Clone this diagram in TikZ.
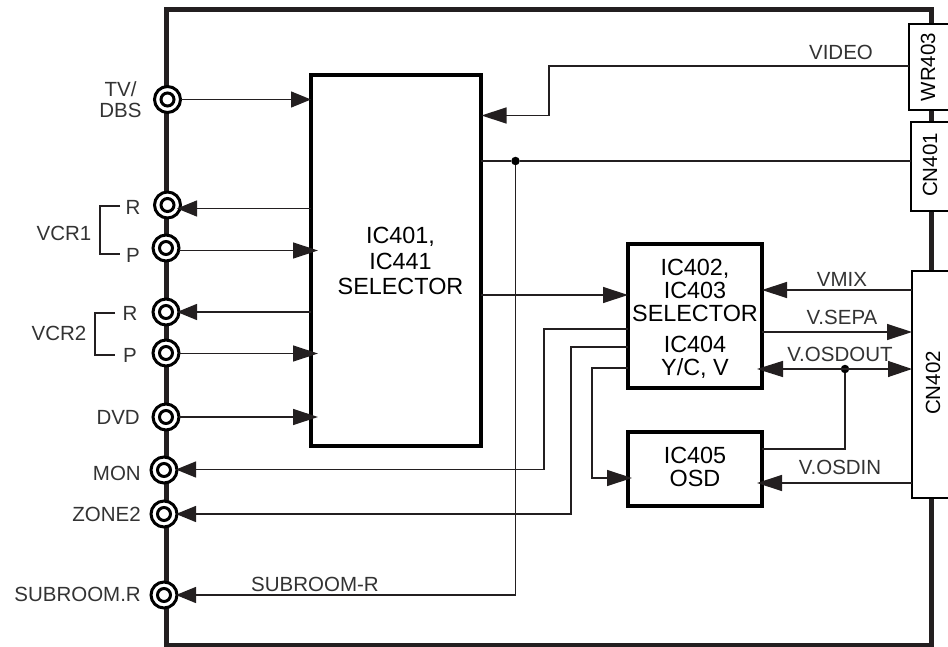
\documentclass[tikz,border=0pt]{standalone}
\usepackage{fontspec}
\setmainfont{Liberation Sans}
\usetikzlibrary{arrows.meta,calc}
\definecolor{ink}{HTML}{231F20}
\definecolor{txt}{HTML}{333333}
\tikzset{
  x=1pt,y=-1pt,
  frameline/.style={draw=ink,line width=5pt,inner sep=0pt,outer sep=0pt,minimum width=765pt,minimum height=635pt},
  icbox/.style={draw=black,fill=white,line width=4pt,inner sep=0pt,outer sep=0pt,align=center,text=black},
  conbox/.style={draw=black,fill=white,line width=2.4pt,inner sep=0pt,outer sep=0pt},
  jack/.style={circle,draw=black,fill=white,line width=3pt,minimum size=26pt,inner sep=0pt,outer sep=0pt,
    path picture={\draw[line width=3pt] (path picture bounding box.center) circle (6.5pt);}},
  lbl/.style={text=txt,inner sep=0pt,font=\fontsize{20.5}{22}\selectfont,align=center},
  rlbl/.style={lbl,anchor=east},
  vlbl/.style={rotate=90,text=black,inner sep=0pt,font=\fontsize{20.5}{22}\selectfont},
  wire/.style={draw=ink,line width=1.3pt},
  arr/.style={wire,-{Triangle[length=25pt,width=16pt,fill=ink]}},
  arrs/.style={wire,-{Triangle[length=20pt,width=16pt,fill=ink]}},
  barr/.style={wire,{Triangle[length=26pt,width=16pt,fill=ink]}-{Triangle[length=24pt,width=16pt,fill=ink]}},
  brk/.style={draw=ink,line width=1.8pt},
  dot/.style={circle,fill=black,minimum size=8.5pt,inner sep=0pt,outer sep=0pt},
}
\begin{document}
\begin{tikzpicture}
\useasboundingbox[fill=white] (0,0) rectangle (948,647);
\clip (0,0) rectangle (948,647);
\node[frameline] (frame) at (548.5,327.5) {};
% boxes
\node[icbox,minimum width=170pt,minimum height=371pt] (ic401) at (396,260.5) {};
\node[icbox,minimum width=134pt,minimum height=144pt] (ic402) at (695,316) {};
\node[icbox,minimum width=134pt,minimum height=74pt] (ic405) at (695,469) {};
\node[conbox,minimum width=60pt,minimum height=86pt] (wr403) at (939,67) {};
\node[conbox,minimum width=58pt,minimum height=89pt] (cn401) at (940,166.5) {};
\node[conbox,minimum width=56pt,minimum height=227pt] (cn402) at (940,384.5) {};
% box texts
\node[inner sep=0pt,align=center,font=\fontsize{23.4}{25.5}\selectfont] (t401) at (400.5,261) {IC401,\\IC441\\SELECTOR};
\node[inner sep=0pt,align=center,font=\fontsize{23.4}{23}\selectfont] (t402) at (695,290) {IC402,\\IC403\\SELECTOR};
\node[inner sep=0pt,align=center,font=\fontsize{23.4}{23}\selectfont] (t404) at (695,357.5) {IC404\\Y/C, V};
\node[inner sep=0pt,align=center,font=\fontsize{23.4}{22.5}\selectfont] (t405) at (695,467) {IC405\\OSD};
\node[vlbl] (twr) at (928,67) {WR403};
\node[vlbl] (tcn1) at (930,165) {CN401};
\node[vlbl] (tcn2) at (933,383) {CN402};
% jacks
\node[jack] (jtv) at (167.5,99.5) {};
\node[jack] (jr1) at (167.5,205) {};
\node[jack] (jp1) at (166,248) {};
\node[jack] (jr2) at (166,312) {};
\node[jack] (jp2) at (166,353) {};
\node[jack] (jdvd) at (166,417) {};
\node[jack] (jmon) at (164,470) {};
\node[jack] (jzone) at (164,514) {};
\node[jack] (jsub) at (164,595) {};
% anchor points of wires
\coordinate (r1) at (177,208.5);
\coordinate (p1) at (jp1.east |- 0,250.5);
\coordinate (r2) at (177,312);
\coordinate (p2) at (jp2.east |- 0,353.5);
\coordinate (mon) at (176,469.5);
\coordinate (zone) at (176,514);
\coordinate (sub) at (176,595);
\coordinate (hit1) at (318,250.5);
\coordinate (hit2) at (318,353.5);
\coordinate (hit3) at (318,417);
\coordinate (vidc) at (549,66);
\coordinate (vidt) at (481.5,115.5);
\node[dot] (d1) at (515.5,161) {};
\node[dot] (d2) at (845,369) {};
% connectors
\draw[arrs] (jtv.east) -- (jtv.east -| ic401.west);
\draw[arrs] (ic401.west |- r1) -- (r1);
\draw[arr] (p1) -- (hit1);
\draw[arrs] (ic401.west |- r2) -- (r2);
\draw[arr] (p2) -- (hit2);
\draw[arr] (jdvd.east) -- (hit3);
\draw[arr] (wr403.west |- vidc) -- (vidc) -- (vidc |- vidt) -- (vidt);
\draw[wire] (ic401.east |- d1) -- (d1) -- (cn401.west |- d1);
\draw[arrs] (d1) -- (d1 |- sub) -- (sub);
\coordinate (a1) at (481,295);
\draw[arr] (a1) -- (a1 -| ic402.west);
\coordinate (m1) at (544,329);
\draw[arrs] (ic402.west |- m1) -- (m1) -- (m1 |- mon) -- (mon);
\coordinate (z1) at (571,347);
\draw[arrs] (ic402.west |- z1) -- (z1) -- (z1 |- zone) -- (zone);
\coordinate (o1) at (592,368);
\coordinate (o2) at (632,478);
\draw[arr] (ic402.west |- o1) -- (o1) -- (o1 |- o2) -- (o2);
\coordinate (vm) at (762,290);
\draw[arr] (cn402.west |- vm) -- (vm);
\coordinate (vs) at (762,332);
\draw[arr] (vs) -- (vs -| cn402.west);
\coordinate (vo) at (757,369);
\draw[barr] (vo) -- (vo -| cn402.west);
\coordinate (vi) at (757,483);
\draw[arr] (cn402.west |- vi) -- (vi);
\coordinate (oo) at (762,449);
\draw[wire] (oo) -- (d2 |- oo) -- (d2);
% brackets
\coordinate (b1a) at (120,206);
\coordinate (b1b) at (120,254);
\coordinate (b1c) at (100,230);
\draw[brk] (b1a) -- (b1c |- b1a) -- (b1c |- b1b) -- (b1b);
\coordinate (b2a) at (115,313);
\coordinate (b2b) at (115,355);
\coordinate (b2c) at (95,330);
\draw[brk] (b2a) -- (b2c |- b2a) -- (b2c |- b2b) -- (b2b);
% labels
\node[lbl] (ltv) at (120.5,99.5) {TV/\\[-1pt]DBS};
\node[lbl] (lr1) at (133,207) {R};
\node[lbl] (lp1) at (133,255) {P};
\node[lbl] (lvcr1) at (64,233) {VCR1};
\node[lbl] (lr2) at (130,313) {R};
\node[lbl] (lp2) at (130,355) {P};
\node[lbl] (lvcr2) at (59,333) {VCR2};
\node[rlbl] (ldvd) at (140,417) {DVD};
\node[rlbl] (lmon) at (141,473) {MON};
\node[rlbl] (lzone) at (141,514) {ZONE2};
\node[rlbl] (lsub) at (141,594) {SUBROOM.R};
\node[lbl] (lsubr) at (315,584) {SUBROOM-R};
\node[lbl] (lvid) at (841,52) {VIDEO};
\node[lbl] (lvmix) at (842,279) {VMIX};
\node[lbl] (lsepa) at (842,317) {V.SEPA};
\node[lbl] (losdo) at (840,354) {V.OSDOUT};
\node[lbl] (losdi) at (840,467) {V.OSDIN};
\end{tikzpicture}
\end{document}
